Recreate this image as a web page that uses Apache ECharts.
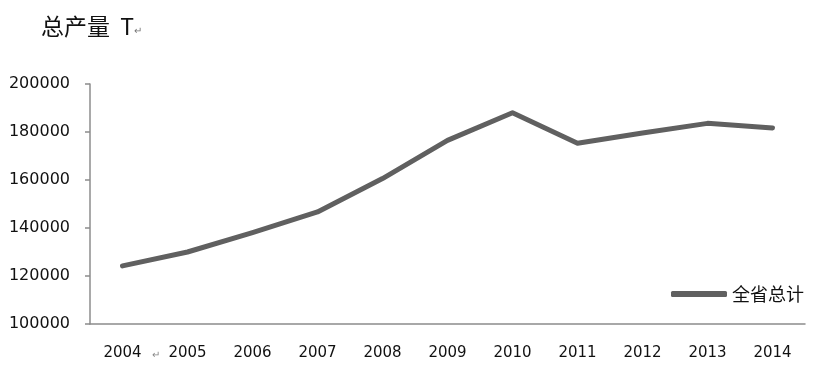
<!DOCTYPE html>
<html>
<head>
<meta charset="utf-8">
<script src="https://cdn.jsdelivr.net/npm/echarts@6/dist/echarts.min.js"></script>
<style>
  html, body { margin: 0; padding: 0; background: #fff; }
  #root { width: 816px; height: 379px; }
</style>
</head>
<body>
<div id="root"></div>
<script>
const years = ['2004', '2005', '2006', '2007', '2008', '2009', '2010', '2011', '2012', '2013', '2014']
const totals = [124200, 130000, 138100, 146700, 160600, 176500, 188000, 175300, 179600, 183600, 181700]
const seriesName = '全省总计'

const dom = document.getElementById('root')
const myChart = echarts.init(dom)
const option = {
  animation: false,
  backgroundColor: '#fff',
  grid: { left: 90, right: 11, top: 84, bottom: 55 },
  title: {
    text: '总产量  T{s|↵}',
    left: 36, top: 10,
    textStyle: {
      fontFamily: 'Noto Sans CJK SC',
      fontSize: 23,
      fontWeight: 'normal',
      color: '#111',
      rich: { s: { fontSize: 10, color: '#777', padding: [8, 0, 0, 0] } }
    }
  },
  legend: {
    data: [seriesName],
    left: 666, top: 280,
    itemWidth: 56, itemHeight: 6,
    itemGap: 8,
    icon: 'roundRect',
    textStyle: { fontFamily: 'Noto Sans CJK SC', fontSize: 18, color: '#111' }
  },
  graphic: [{
    type: 'text', left: 152, top: 350,
    style: { text: '↵', fontSize: 10, fill: '#888' }
  }],
  xAxis: {
    type: 'category',
    data: years,
    boundaryGap: true,
    axisLine: { lineStyle: { color: '#8c8c8c', width: 1.5 } },
    axisTick: { length: 6, lineStyle: { color: '#8c8c8c', width: 1.5 } },
    axisLabel: { color: '#111', fontSize: 15, margin: 22, fontFamily: 'DejaVu Sans' }
  },
  yAxis: {
    type: 'value',
    min: 100000, max: 200000, interval: 20000,
    splitLine: { show: false },
    axisLine: { show: true, lineStyle: { color: '#8c8c8c', width: 1.5 } },
    axisTick: { show: true, length: 5, lineStyle: { color: '#8c8c8c', width: 1.5 } },
    axisLabel: {
      color: '#111', fontSize: 16, margin: 20, fontFamily: 'DejaVu Sans',
      formatter: v => String(v)
    }
  },
  series: [{
    name: seriesName,
    type: 'line',
    data: totals,
    symbol: 'none',
    color: '#606060',
    lineStyle: { width: 5, color: '#606060', cap: 'round', join: 'round' }
  }]
}
myChart.setOption(option, true)
</script>
</body>
</html>
